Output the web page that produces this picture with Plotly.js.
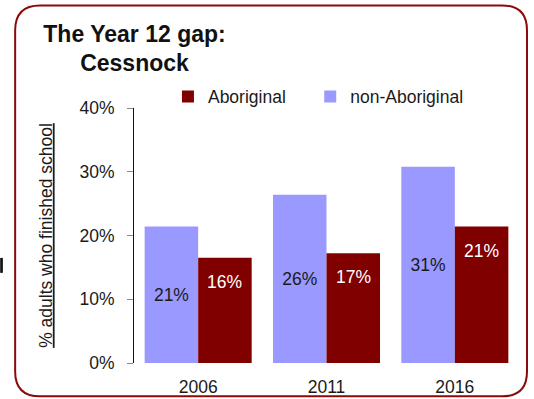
<!DOCTYPE html>
<html>
<head>
<meta charset="utf-8">
<script src="https://cdn.plot.ly/plotly-3.0.1.min.js"></script>
<style>
html,body{margin:0;padding:0;background:#fff;}
#chart{width:534px;height:399px;}
</style>
</head>
<body>
<div id="chart"></div>
<script>
// ---- data ----
var years = ['2006', '2011', '2016'];
var nonAboriginal = [0.214, 0.264, 0.308];
var aboriginal = [0.165, 0.172, 0.214];
var nonAboriginalLabels = ['21%', '26%', '31%'];
var aboriginalLabels = ['16%', '17%', '21%'];
var yTickVals = [0, 0.1, 0.2, 0.3, 0.4];
var yTickText = ['0%', '10%', '20%', '30%', '40%'];

var W = 534, H = 399;
var M = {l: 134, r: 14.5, t: 107.5, b: 35.5};
var PW = W - M.l - M.r, PH = H - M.t - M.b;
function px(x) { return (x - M.l) / PW; }
function py(y) { return (H - M.b - y) / PH; }

var FONT = 'Liberation Sans, Arial, Helvetica, sans-serif';
var DARK = '#800000';
var BLUE = '#9999FF';
var NBSP = '\u00A0';

var traces = [
  {
    type: 'bar', name: 'non-Aboriginal', x: years, y: nonAboriginal,
    marker: {color: BLUE},
    text: nonAboriginalLabels, textposition: 'inside', insidetextanchor: 'middle',
    textfont: {family: FONT, size: 17.5, color: '#1a1a1a'},
    hoverinfo: 'skip'
  },
  {
    type: 'bar', name: 'Aboriginal' + NBSP + NBSP + NBSP + NBSP, x: years, y: aboriginal,
    marker: {color: DARK},
    textposition: 'none',
    hoverinfo: 'skip'
  }
];

// category axis: annotation x uses the category's serial index
var annotations = years.map(function (yr, i) {
  return {
    x: i, y: aboriginal[i], xref: 'x', yref: 'y',
    xshift: 26.7, yshift: -24, yanchor: 'middle', xanchor: 'center',
    text: aboriginalLabels[i], showarrow: false,
    font: {family: FONT, size: 17.5, color: '#ffffff'}
  };
});

// rounded border
var bx0 = 15, bx1 = 527.5, by0 = 4.5, by1 = 397, r = 25;
var path = 'M' + px(bx0 + r) + ',' + py(by0) +
  ' L' + px(bx1 - r) + ',' + py(by0) +
  ' Q' + px(bx1) + ',' + py(by0) + ' ' + px(bx1) + ',' + py(by0 + r) +
  ' L' + px(bx1) + ',' + py(by1 - r) +
  ' Q' + px(bx1) + ',' + py(by1) + ' ' + px(bx1 - r) + ',' + py(by1) +
  ' L' + px(bx0 + r) + ',' + py(by1) +
  ' Q' + px(bx0) + ',' + py(by1) + ' ' + px(bx0) + ',' + py(by1 - r) +
  ' L' + px(bx0) + ',' + py(by0 + r) +
  ' Q' + px(bx0) + ',' + py(by0) + ' ' + px(bx0 + r) + ',' + py(by0) + ' Z';

var shapes = [
  {type: 'path', xref: 'paper', yref: 'paper', path: path,
   line: {color: '#8B0A0A', width: 2}, fillcolor: 'rgba(0,0,0,0)', layer: 'above'},
  {type: 'rect', xref: 'paper', yref: 'paper',
   x0: px(0), x1: px(2.7), y0: py(273), y1: py(258),
   line: {width: 0}, fillcolor: '#111'}
];

var layout = {
  width: W, height: H,
  margin: M,
  paper_bgcolor: '#ffffff', plot_bgcolor: '#ffffff',
  font: {family: FONT, size: 17.5, color: '#1a1a1a'},
  title: {
    text: 'The Year 12 gap:<br>Cessnock',
    font: {family: FONT, size: 23, color: '#111', weight: 'bold'},
    x: 134.5 / W, xanchor: 'center', xref: 'container',
    y: 1 - 41.5 / H, yanchor: 'top', yref: 'container'
  },
  barmode: 'group',
  bargap: 0.166,
  bargroupgap: 0,
  showlegend: true,
  legend: {
    orientation: 'h', traceorder: 'reversed',
    x: px(168), xanchor: 'left',
    y: py(96), yanchor: 'middle',
    font: {family: FONT, size: 17.5, color: '#1a1a1a'},
    bgcolor: 'rgba(0,0,0,0)'
  },
  xaxis: {
    type: 'category',
    showline: false, showgrid: false, zeroline: false,
    ticks: '', ticklabelstandoff: 11,
    tickfont: {family: FONT, size: 17.5, color: '#1a1a1a'},
    fixedrange: true
  },
  yaxis: {
    range: [0, 0.4],
    tickvals: yTickVals, ticktext: yTickText,
    showline: true, linecolor: '#111', linewidth: 1,
    ticks: 'outside', ticklen: 6, tickcolor: '#888', tickwidth: 1,
    ticklabelstandoff: 9,
    showgrid: false, zeroline: false,
    tickfont: {family: FONT, size: 17.5, color: '#1a1a1a'},
    title: {
      text: '% adults who finished school',
      font: {family: FONT, size: 17.5, color: '#1a1a1a', lineposition: 'under'},
      standoff: 22
    },
    fixedrange: true
  },
  annotations: annotations,
  shapes: shapes
};

Plotly.newPlot('chart', traces, layout, {displayModeBar: false, staticPlot: true});
</script>
</body>
</html>
